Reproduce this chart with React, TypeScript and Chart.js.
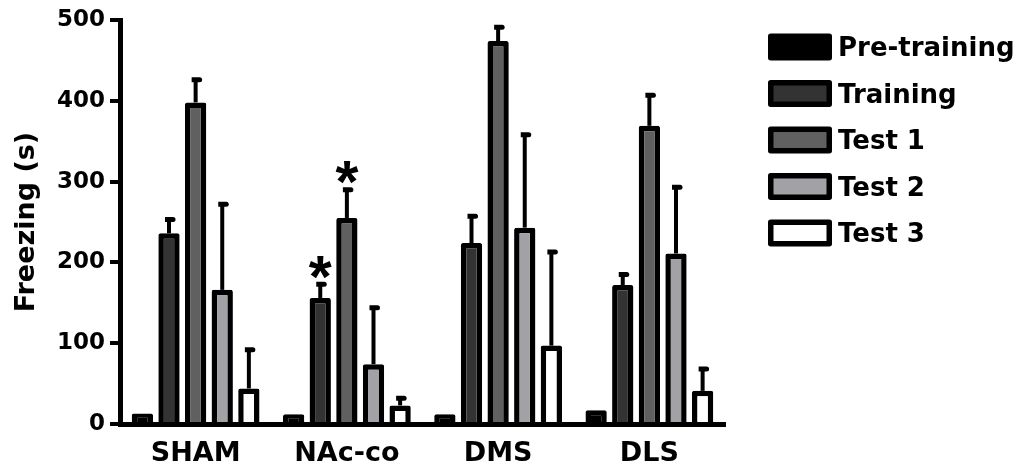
import React, { useEffect, useRef } from 'react';
import { Chart, registerables } from 'chart.js';

Chart.register(...registerables);

const categories = ['SHAM', 'NAc-co', 'DMS', 'DLS'];
const seriesLabels = ['Pre-training', 'Training', 'Test 1', 'Test 2', 'Test 3'];
const preTraining = [13, 12, 12, 17];
const training = [236, 156, 224, 172];
const test1 = [398, 255, 474, 369];
const test2 = [166, 74, 243, 211];
const test3 = [44, 23, 97, 41];
const preTrainingErr = [0, 0, 0, 0];
const trainingErr = [17, 17, 33, 13];
const test1Err = [28, 35, 17, 38];
const test2Err = [106, 70, 115, 82];
const test3Err = [48, 9, 116, 27];
const seriesColors = ['#000000', '#333333', '#606060', '#a2a2a6', '#ffffff'];
// [series index, category index] of bars marked with an asterisk
const significant = [
  [1, 1],
  [2, 1],
];
const yTickStep = 100;
const yMax = 500;

const FONT = "'DejaVu Sans', 'Liberation Sans', Arial, sans-serif";
const STAR_FONT = "'Liberation Sans', Arial, sans-serif";

const seriesValues = [preTraining, training, test1, test2, test3];
const seriesErrors = [preTrainingErr, trainingErr, test1Err, test2Err, test3Err];

const errorBarPlugin = {
  id: 'errorBars',
  afterDatasetsDraw(chart: any) {
    const ctx = chart.ctx;
    const yScale = chart.scales.y;
    ctx.save();
    ctx.fillStyle = '#000';
    ctx.strokeStyle = '#000';
    seriesValues.forEach((vals, i) => {
      const meta = chart.getDatasetMeta(i);
      meta.data.forEach((bar: any, j: number) => {
        const e = seriesErrors[i][j];
        if (!e) return;
        const v = vals[j];
        const x = bar.x;
        const yTop = yScale.getPixelForValue(v);
        const yErr = yScale.getPixelForValue(v + e);
        ctx.lineWidth = 4;
        ctx.lineCap = 'butt';
        ctx.beginPath();
        ctx.moveTo(x, yTop);
        ctx.lineTo(x, yErr);
        ctx.stroke();
        // cap
        ctx.beginPath();
        ctx.moveTo(x - 4, yErr - 2.5);
        ctx.lineTo(x + 4, yErr - 2.5);
        ctx.arc(x + 4, yErr, 2.5, -Math.PI / 2, Math.PI / 2);
        ctx.lineTo(x - 4, yErr + 2.5);
        ctx.closePath();
        ctx.fill();
      });
    });
    // asterisks
    significant.forEach(([i, j]) => {
      const meta = chart.getDatasetMeta(i);
      const bar: any = meta.data[j];
      const v = seriesValues[i][j] + seriesErrors[i][j];
      const yErr = yScale.getPixelForValue(v);
      const cy = yErr - 17;
      ctx.font = `bold 100px ${STAR_FONT}`;
      const m = ctx.measureText('*');
      const w100 = m.actualBoundingBoxLeft + m.actualBoundingBoxRight;
      const size = (100 * 23) / w100;
      ctx.font = `bold ${size}px ${STAR_FONT}`;
      const m2 = ctx.measureText('*');
      const gw = m2.actualBoundingBoxLeft + m2.actualBoundingBoxRight;
      const gh = m2.actualBoundingBoxAscent + m2.actualBoundingBoxDescent;
      ctx.textBaseline = 'alphabetic';
      ctx.textAlign = 'left';
      const bx = bar.x - gw / 2 + m2.actualBoundingBoxLeft;
      const by = cy + gh / 2 - m2.actualBoundingBoxDescent;
      ctx.fillText('*', bx, by);
    });
    ctx.restore();
  },
};

const legendPlugin = {
  id: 'customLegend',
  afterDraw(chart: any) {
    const ctx = chart.ctx;
    ctx.save();
    const startY = 47;
    const rowGap = 46.5;
    seriesLabels.forEach((label, i) => {
      const cy = startY + i * rowGap;
      ctx.fillStyle = seriesColors[i];
      ctx.strokeStyle = '#000';
      ctx.lineWidth = 5.5;
      ctx.lineJoin = 'round';
      ctx.beginPath();
      ctx.rect(770.75, cy - 10.75, 58.5, 21.5);
      ctx.fill();
      ctx.stroke();
      ctx.fillStyle = '#000';
      ctx.font = `bold 26px ${FONT}`;
      ctx.textAlign = 'left';
      ctx.textBaseline = 'alphabetic';
      const mt = ctx.measureText('T');
      const cap = mt.actualBoundingBoxAscent;
      ctx.fillText(label, 838, cy + cap / 2 - 1);
    });
    ctx.restore();
  },
};

export default function App() {
  const ref = useRef<HTMLCanvasElement | null>(null);
  useEffect(() => {
    document.body.style.margin = '0';
    if (!ref.current) return;
    const chart = new Chart(ref.current, {
      type: 'bar',
      data: {
        labels: categories,
        datasets: seriesLabels.map((label, i) => ({
          label,
          data: seriesValues[i],
          backgroundColor: seriesColors[i],
          borderColor: '#000',
          borderWidth: 5.5,
          borderSkipped: 'start',
          borderRadius: 2,
          barPercentage: 0.8,
          categoryPercentage: 0.88,
        })),
      },
      options: {
        animation: false,
        responsive: false,
        maintainAspectRatio: false,
        layout: { padding: { left: 0, right: 305, top: 20, bottom: 0 } },
        plugins: {
          legend: { display: false },
          tooltip: { enabled: false },
        },
        scales: {
          x: {
            grid: { display: false, drawTicks: false },
            border: { display: true, color: '#000', width: 5 },
            ticks: {
              font: { family: FONT, size: 27, weight: 'bold' },
              color: '#000',
              padding: 14,
            },
            afterFit: (s: any) => {
              s.height = 46;
            },
          },
          y: {
            min: 0,
            max: yMax,
            ticks: {
              stepSize: yTickStep,
              font: { family: FONT, size: 23, weight: 'bold' },
              color: '#000',
              padding: 5,
            },
            grid: {
              drawOnChartArea: false,
              drawTicks: true,
              tickLength: 10,
              lineWidth: 4,
              color: '#000',
            },
            border: { display: true, color: '#000', width: 5 },
            title: {
              display: true,
              text: 'Freezing (s)',
              color: '#000',
              font: { family: FONT, size: 27, weight: 'bold', lineHeight: 1.2 },
              padding: { top: 11, bottom: 0 },
            },
            afterFit: (s: any) => {
              s.width = 120;
            },
          },
        },
      },
      plugins: [errorBarPlugin, legendPlugin],
    } as any);
    return () => chart.destroy();
  }, []);
  return (
    <div style={{ width: 1030, height: 470 }}>
      <canvas ref={ref} width={1030} height={470} style={{ display: 'block', width: 1030, height: 470 }} />
    </div>
  );
}
